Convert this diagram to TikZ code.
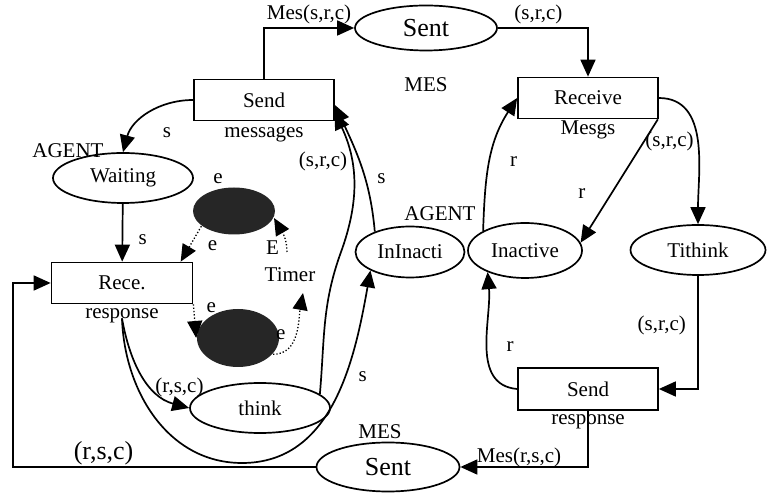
\documentclass[tikz,border=0pt]{standalone}
\usepackage{fontspec}
\setmainfont{Liberation Serif}
\usepackage{tikz}
\usetikzlibrary{shapes.geometric}
\usetikzlibrary{arrows.meta}
\definecolor{tokenfill}{RGB}{38, 38, 38}

\begin{document}
\begin{tikzpicture}[x = 1pt, y = 1pt, >={Triangle[length = 17pt, width = 15pt]}, line width = 1.7pt,
font = \fontsize{21}{23}\selectfont,
every label/.style = {font = \fontsize{21}{23}\selectfont},
place/.style = {ellipse, draw, inner sep = 0pt, minimum width = 140pt, minimum height = 50pt},
trans/.style = {draw, inner sep = 0pt, minimum width = 140pt, minimum height = 41pt},
token/.style = {ellipse, fill = tokenfill, inner sep = 0pt, minimum width = 82pt},
bigtext/.style = {font = \fontsize{26}{28}\selectfont},
timerarc/.style = {dotted, line width = 1.3pt}]
\useasboundingbox (0,0) rectangle (771,495);
\node[place, bigtext, minimum width = 142pt, minimum height = 45pt, label = {[label distance = 22pt]below:MES}] (sentTop) at (426,467) {Sent};
\node[trans, label = {[label distance = 1pt]below:messages}] (sendMsg) at (264,395) {Send};
\node[trans, label = {[label distance = -3pt]below:Mesgs}] (recv) at (588,397) {Receive};
\node[place, label = {[label distance = -10pt, xshift = -55pt]above:AGENT}] (waiting) at (123,317) {Waiting};
\node[trans, minimum width = 141pt, label = {[name = receLbl, label distance = 0pt]below:response}] (rece) at (122,212) {Rece.};
\node[token, minimum height = 47pt, label = {[label distance = -1pt, xshift = -16pt]above:e}] (tokTop) at (234,284) {};
\node[token, minimum height = 58pt] (tokBot) at (238,157) {};
\node (timer) at (290,220) {Timer};
\node[place] (think) at (260,87) {think};
\node[place, minimum width = 109pt, minimum height = 51pt, label = {[label distance = 1pt, xshift = 30pt]above:AGENT}] (inInacti) at (410,243) {InInacti};
\node[place, minimum width = 114pt, minimum height = 55pt] (inactive) at (525,244.5) {Inactive};
\node[place, minimum width = 135pt] (tithink) at (698,245) {Tithink};
\node[trans, minimum height = 42pt, label = {[label distance = 0pt]below:response}] (sendResp) at (588,106) {Send};
\node[place, bigtext, minimum width = 143pt, minimum height = 49pt, label = {[label distance = -1pt, xshift = -8pt]above:MES}] (sentBot) at (388,28) {Sent};
\coordinate (timerIn) at (287,243);
\coordinate (timerOut) at (303,202);
\coordinate (uBottom) at (242,32);
\coordinate (bend) at (341,243);
\draw[->] (sendMsg.north) |- node[pos = 0.75, above] {Mes(s,r,c)} (sentTop.west);
\draw[->] (sentTop.east) -| node[pos = 0.225, above] {(s,r,c)} (recv.north);
\draw[->] (sendMsg.west) to[out = 180, in = 75] node[pos = 0.5, below right = 10pt] {s} (waiting.north);
\draw[->] (waiting) -- node[pos = 0.62, right = 12pt] {s} (rece);
\draw[->] (receLbl.base) to[out = -80, in = 165] node[pos = 0.92, above = 4pt] {(r,s,c)} (think.west);
\draw[->] (receLbl.base) to[out = -88, in = 180] (uBottom) to[out = 0, in = -100] node[pos = 0.6, right = 10pt] {s} (inInacti.205);
\draw[->] (think.13) to[out = 85, in = 250] (bend) to[out = 70, in = -65] node[pos = 0.65, left] {(s,r,c)} (sendMsg.-10);
\draw[->] (inInacti.150) to[out = 95, in = -65] node[pos = 0.4, right = 8pt] {s} (sendMsg.-4);
\draw[timerarc, ->] (tokTop.205) -- node[pos = 0.55, right = 14pt] {e} (rece.20);
\draw[timerarc, ->] (timerIn) to[out = 90, in = -60] node[pos = 0.1, left = 4pt] {E} (tokTop.-10);
\draw[timerarc, ->] (rece.south east) -- node[pos = 0.1, right = 9pt] {e} (tokBot.west);
\draw[timerarc, ->] (tokBot.-25) to[out = 0, in = -100] node[pos = 0.05, above, xshift = 4pt, yshift = 10pt] {e} (timerOut);
\draw[->] (inactive.155) to[out = 88, in = 237] node[pos = 0.5, right = 16pt] {r} (recv.west);
\draw[->] (recv.-17) -- node[pos = 0.6, left = 22pt] {r} (inactive.8);
\draw[->] (recv.east) to[out = 0, in = 90] node[pos = 0.5, left] {(s,r,c)} (tithink.north);
\draw[->] (tithink.south) |- node[pos = 0.22, left = 8pt] {(s,r,c)} (sendResp.east);
\draw[->] (sendResp.west) to[out = 175, in = -85] node[pos = 0.5, right = 16pt] {r} (inactive.210);
\draw[->] (sendResp.south) |- node[pos = 0.77, above = -4pt] {Mes(r,s,c)} (sentBot.east);
\draw[->] (sentBot.west) -| node[pos = 0.35, above = -2pt, bigtext] {(r,s,c)} ([xshift = -38pt]rece.west) -- (rece.west);
\end{tikzpicture}
\end{document}
